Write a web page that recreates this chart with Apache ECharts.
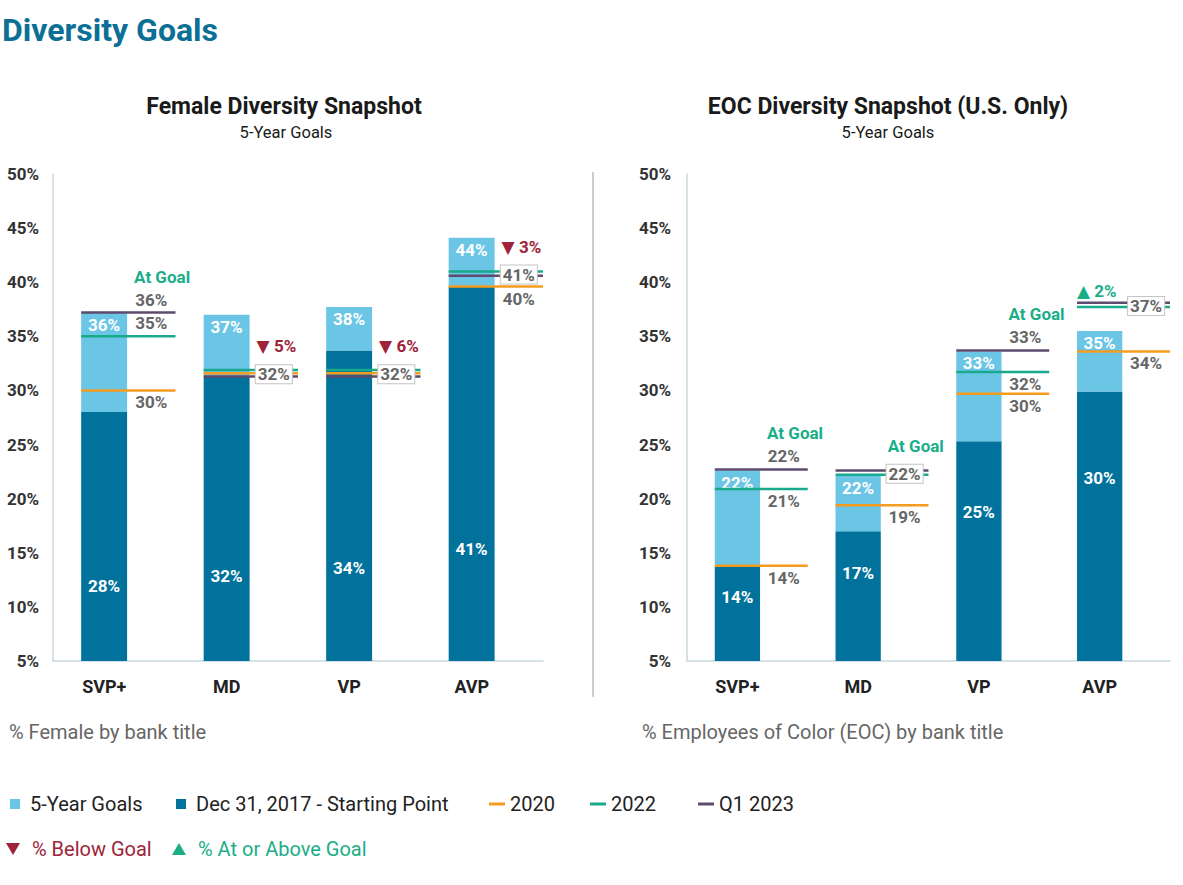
<!DOCTYPE html>
<html>
<head>
<meta charset="utf-8">
<script src="https://cdn.jsdelivr.net/npm/echarts@6/dist/echarts.min.js"></script>
<style>html,body{margin:0;padding:0;background:#fff}#c{width:1183px;height:885px}</style>
</head>
<body>
<div id="c"></div>
<script>
// ---------------- DATA ----------------
const categories = ['SVP+', 'MD', 'VP', 'AVP'];
const yAxisMin = 5, yAxisMax = 50, yAxisStep = 5;

// Female Diversity Snapshot
const femaleStart = [28.0, 31.3, 33.7, 39.6];
const femaleGoal = [37.2, 37.0, 37.7, 44.1];
const female2020 = [30.0, 31.6, 31.6, 39.6];
const female2022 = [35.0, 31.9, 31.9, 41.0];
const femaleQ12023 = [37.2, 31.3, 31.3, 40.6];
const femaleStartLabels = ['28%', '32%', '34%', '41%'];
const femaleGoalLabels = ['36%', '37%', '38%', '44%'];
const female2020Labels = ['30%', '32%', '32%', '40%'];
const female2022Labels = ['35%', '32%', '32%', '41%'];
const femaleQ12023Labels = ['36%', '32%', '32%', '41%'];
const femaleStatus = ['At Goal', '▼ 5%', '▼ 6%', '▼ 3%'];

// EOC Diversity Snapshot (U.S. Only)
const eocStart = [13.7, 17.0, 25.3, 29.9];
const eocGoal = [22.6, 22.1, 33.6, 35.5];
const eoc2020 = [13.8, 19.4, 29.7, 33.6];
const eoc2022 = [20.9, 22.2, 31.7, 37.7];
const eocQ12023 = [22.7, 22.6, 33.7, 38.1];
const eocStartLabels = ['14%', '17%', '25%', '30%'];
const eocGoalLabels = ['22%', '22%', '33%', '35%'];
const eoc2020Labels = ['14%', '19%', '30%', '34%'];
const eoc2022Labels = ['21%', '22%', '32%', '37%'];
const eocQ12023Labels = ['22%', '22%', '33%', '37%'];
const eocStatus = ['At Goal', 'At Goal', 'At Goal', '▲ 2%'];

// ---------------- STYLE ----------------
const FONT = "Roboto, 'Noto Sans', 'DejaVu Sans', sans-serif";
const DARK = '#00729b', LIGHT = '#6bc6e6';
const C2020 = '#f39c1f', C2022 = '#19aa8b', CQ1 = '#5e4b6e';
const RED = '#9e2339', GREEN = '#1aae88', GRAY = '#666666';
const AXIS = '#c9d9e0';
const B17 = 'bold 17px ' + FONT;
const GROUP_GAP = 0.7;

const charts = [
  {
    start: femaleStart, goal: femaleGoal, startLabels: femaleStartLabels, goalLabels: femaleGoalLabels,
    status: femaleStatus, statusAnchor: ['right', 'right', 'right', 'right'], startLabelFrac: 0.3,
    lines: [
      { name: '2020', color: C2020, values: female2020, labels: female2020Labels, place: 'below' },
      { name: '2022', color: C2022, values: female2022, labels: female2022Labels, place: 'above' },
      { name: 'Q1 2023', color: CQ1, values: femaleQ12023, labels: femaleQ12023Labels, place: 'above' }
    ]
  },
  {
    start: eocStart, goal: eocGoal, startLabels: eocStartLabels, goalLabels: eocGoalLabels,
    status: eocStatus, statusAnchor: ['right', 'right', 'right', 'left'], startLabelFrac: 0.68,
    lines: [
      { name: '2020', color: C2020, values: eoc2020, labels: eoc2020Labels, place: 'below' },
      { name: '2022', color: C2022, values: eoc2022, labels: eoc2022Labels, place: 'below' },
      { name: 'Q1 2023', color: CQ1, values: eocQ12023, labels: eocQ12023Labels, place: 'above' }
    ]
  }
];

function geo(api, i) {
  const bw = api.size([1, 0])[0];
  const cx = api.coord([i, yAxisMin])[0];
  const left = cx - 0.27 * bw;
  const w = 0.375 * bw;
  return { bw, cx, left, w, right: left + w, end: cx + 0.5 * bw };
}
function txt(text, x, y, fill, align, extra) {
  return { type: 'text', style: Object.assign({ text, x, y, fill, font: B17, textAlign: align || 'center', textVerticalAlign: 'middle' }, extra || {}) };
}

const series = [];
charts.forEach((cfg, g) => {
  series.push({
    type: 'custom', name: 'Dec 31, 2017 - Starting Point', xAxisIndex: g, yAxisIndex: g, z: 2,
    itemStyle: { color: DARK },
    data: cfg.start.map((v, i) => [i, v]),
    renderItem(params, api) {
      const i = api.value(0), v = api.value(1);
      const gm = geo(api, i);
      const y0 = api.coord([i, yAxisMin])[1], y1 = api.coord([i, v])[1];
      const ly = y0 - (y0 - y1) * cfg.startLabelFrac;
      return { type: 'group', children: [
        { type: 'rect', shape: { x: gm.left, y: y1, width: gm.w, height: y0 - y1 }, style: { fill: DARK } },
        txt(cfg.startLabels[i], gm.left + gm.w / 2, ly, '#fff')
      ] };
    }
  });
  series.push({
    type: 'custom', name: '5-Year Goals', xAxisIndex: g, yAxisIndex: g, z: 2,
    itemStyle: { color: LIGHT },
    data: cfg.goal.map((v, i) => [i, cfg.start[i], v]),
    renderItem(params, api) {
      const i = api.value(0), s = api.value(1), v = api.value(2);
      const gm = geo(api, i);
      const y0 = api.coord([i, s])[1], y1 = api.coord([i, v])[1];
      return { type: 'group', children: [
        { type: 'rect', shape: { x: gm.left, y: y1, width: gm.w, height: y0 - y1 }, style: { fill: LIGHT } },
        txt(cfg.goalLabels[i], gm.left + gm.w / 2, y1 + 12, '#fff')
      ] };
    }
  });
  cfg.lines.forEach(line => {
    series.push({
      type: 'custom', name: line.name, xAxisIndex: g, yAxisIndex: g, z: 3,
      itemStyle: { color: line.color },
      data: line.values.map((v, i) => [i, v]),
      renderItem(params, api) {
        const i = api.value(0), v = api.value(1);
        const gm = geo(api, i);
        const y = api.coord([i, v])[1];
        return { type: 'line', shape: { x1: gm.left, y1: y, x2: gm.end, y2: y }, style: { stroke: line.color, lineWidth: 2.5 } };
      }
    });
  });
  series.push({
    type: 'custom', name: 'labels' + g, xAxisIndex: g, yAxisIndex: g, z: 5, silent: true,
    data: categories.map((c, i) => [i, yAxisMin]),
    renderItem(params, api) {
      const i = api.value(0);
      const gm = geo(api, i);
      const lx = (gm.right + gm.end) / 2;
      const items = cfg.lines.map(l => ({ v: l.values[i], text: l.labels[i], place: l.place }))
        .sort((a, b) => b.v - a.v);
      const groups = [];
      items.forEach(it => {
        const last = groups[groups.length - 1];
        if (last && last[last.length - 1].v - it.v < GROUP_GAP) last.push(it); else groups.push([it]);
      });
      const children = [];
      let statusY = 0, topLineY = 0;
      groups.forEach((grp, k) => {
        const ys = grp.map(it => api.coord([i, it.v])[1]);
        if (k === 0) topLineY = Math.min(...ys);
        if (grp.length > 1) {
          const cy = (Math.min(...ys) + Math.max(...ys)) / 2;
          children.push(txt(grp[0].text, lx, cy + 1, GRAY, 'center', {
            backgroundColor: '#fff', borderColor: '#c4c4c4', borderWidth: 1, padding: [1, 2, 0, 2]
          }));
          if (k === 0) statusY = cy - 27;
        } else {
          const y = ys[0];
          const ly = grp[0].place === 'above' ? y - 13 : y + 12;
          children.push(txt(grp[0].text, lx, ly, GRAY));
          if (k === 0) statusY = (grp[0].place === 'above' ? ly : y) - 23;
        }
      });
      const st = cfg.status[i];
      const col = st.charAt(0) === '▼' ? RED : GREEN;
      if (cfg.statusAnchor[i] === 'left') {
        children.push(txt(st, gm.left, topLineY - 12, col, 'left'));
      } else {
        children.push(txt(st, gm.right + 7, statusY, col, 'left'));
      }
      return { type: 'group', children };
    }
  });
});

// dummy series for the marker legend
series.push({ type: 'custom', name: '% Below Goal', itemStyle: { color: RED }, data: [], renderItem: () => null });
series.push({ type: 'custom', name: '% At or Above Goal', itemStyle: { color: GREEN }, data: [], renderItem: () => null });

const SQUARE = 'path://M0,0H10V10H0Z';
const LINEICON = 'path://M0,0H16V3H0Z';
const DOWN = 'path://M0,0H14L7,12Z';
const UP = 'path://M7,0L14,12H0Z';
const legText = { fontSize: 20, color: '#222', fontFamily: FONT };
function leg(left, top, name, icon, w, h, textStyle) {
  return { left, top, selectedMode: false, itemWidth: w, itemHeight: h, data: [{ name, icon }], textStyle: Object.assign({}, legText, textStyle || {}) };
}

const xAxisBase = {
  type: 'category', data: categories,
  axisLine: { show: true, lineStyle: { color: AXIS, width: 1.5 } },
  axisTick: { show: false },
  axisLabel: { color: '#222', fontWeight: 'bold', fontSize: 18, fontFamily: FONT, margin: 16, padding: [0, 20, 0, 0] }
};
const yAxisBase = {
  type: 'value', min: yAxisMin, max: yAxisMax, interval: yAxisStep,
  axisLine: { show: true, lineStyle: { color: AXIS, width: 1.5 } },
  axisTick: { show: false }, splitLine: { show: false },
  axisLabel: { formatter: '{value}%', color: '#333', fontWeight: 'bold', fontSize: 17, fontFamily: FONT }
};

const option = {
  backgroundColor: '#fff',
  animation: false,
  grid: [
    { left: 53, top: 174, width: 490, height: 487 },
    { left: 687, top: 174, width: 483, height: 487 }
  ],
  xAxis: [Object.assign({ gridIndex: 0 }, xAxisBase), Object.assign({ gridIndex: 1 }, xAxisBase)],
  yAxis: [
    Object.assign({ gridIndex: 0 }, yAxisBase, { axisLabel: Object.assign({}, yAxisBase.axisLabel, { margin: 14 }) }),
    Object.assign({ gridIndex: 1 }, yAxisBase, { axisLabel: Object.assign({}, yAxisBase.axisLabel, { margin: 16 }) })
  ],
  legend: [
    leg(5, 789, '5-Year Goals', SQUARE, 20, 10),
    leg(171, 789, 'Dec 31, 2017 - Starting Point', SQUARE, 20, 10),
    leg(484, 789, '2020', LINEICON, 16, 10),
    leg(585, 789, '2022', LINEICON, 16, 10),
    leg(693, 789, 'Q1 2023', LINEICON, 16, 10),
    leg(1, 834, '% Below Goal', DOWN, 28, 12, { color: RED }),
    leg(167, 834, '% At or Above Goal', UP, 28, 12, { color: GREEN })
  ],
  graphic: [
    { type: 'text', style: { text: 'Diversity Goals', x: 2, y: 30, textAlign: 'left', textVerticalAlign: 'middle', font: 'bold 32px ' + FONT, fill: '#0b6f96' } },
    { type: 'text', style: { text: 'Female Diversity Snapshot', x: 284, y: 106, textAlign: 'center', textVerticalAlign: 'middle', font: 'bold 23px ' + FONT, fill: '#1a1a1a' } },
    { type: 'text', style: { text: '5-Year Goals', x: 286, y: 132, textAlign: 'center', textVerticalAlign: 'middle', font: '16.5px ' + FONT, fill: '#1a1a1a' } },
    { type: 'text', style: { text: 'EOC Diversity Snapshot (U.S. Only)', x: 888, y: 106, textAlign: 'center', textVerticalAlign: 'middle', font: 'bold 23px ' + FONT, fill: '#1a1a1a' } },
    { type: 'text', style: { text: '5-Year Goals', x: 888, y: 132, textAlign: 'center', textVerticalAlign: 'middle', font: '16.5px ' + FONT, fill: '#1a1a1a' } },
    { type: 'line', shape: { x1: 593, y1: 172, x2: 593, y2: 697 }, style: { stroke: '#9a9a9a', lineWidth: 1 } },
    { type: 'text', style: { text: '% Female by bank title', x: 9, y: 732, textAlign: 'left', textVerticalAlign: 'middle', font: '20px ' + FONT, fill: '#666' } },
    { type: 'text', style: { text: '% Employees of Color (EOC) by bank title', x: 642, y: 732, textAlign: 'left', textVerticalAlign: 'middle', font: '20px ' + FONT, fill: '#666' } }
  ],
  series
};

const chart = echarts.init(document.getElementById('c'), null, { renderer: 'svg' });
chart.setOption(option);
</script>
</body>
</html>
